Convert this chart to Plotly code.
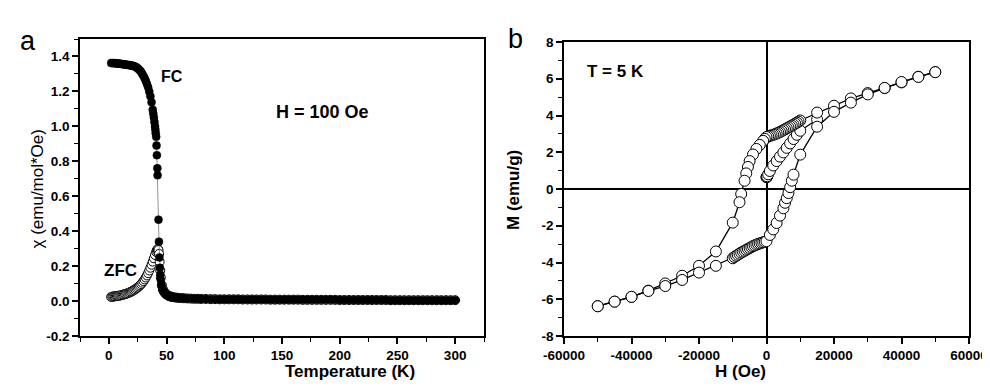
import plotly.graph_objects as go

# ---------------- Panel a : chi(T) ----------------
fc_T = [2, 3, 4, 5, 6, 7, 8, 9, 10, 11, 12, 13, 14, 15, 16, 17, 18, 19, 20, 21, 22, 23, 24, 25,
        26, 27, 28, 29, 30, 31, 32, 33, 34, 35, 36, 37, 38, 38.5, 39, 39.5, 40, 40.3, 40.6, 41,
        41.3, 41.6, 42, 42.2, 43, 43.4, 43.8, 44.2, 44.6, 45, 45.5, 46, 46.5, 47, 48, 49, 50,
        51, 52, 53, 54, 55, 57, 59, 61, 63, 65, 68, 71, 74, 77, 80, 84, 88, 92, 96, 100,
        104, 108, 112, 116, 120, 124, 128, 132, 136, 140, 144, 148, 152, 156, 160, 164, 168,
        172, 176, 180, 184, 188, 192, 196, 200, 204, 208, 212, 216, 220, 224, 228, 232, 236,
        240, 244, 248, 252, 256, 260, 264, 268, 272, 276, 280, 284, 288, 292, 296, 300]
fc_chi = [1.362, 1.362, 1.362, 1.361, 1.361, 1.360, 1.360, 1.359, 1.358, 1.357, 1.356, 1.355,
          1.354, 1.353, 1.352, 1.351, 1.350, 1.349, 1.348, 1.346, 1.344, 1.341, 1.337, 1.332,
          1.326, 1.319, 1.311, 1.300, 1.288, 1.275, 1.260, 1.243, 1.224, 1.200, 1.172, 1.138,
          1.095, 1.072, 1.050, 1.025, 1.000, 0.980, 0.960, 0.940, 0.890, 0.835, 0.760, 0.720,
          0.466, 0.340, 0.250, 0.190, 0.150, 0.120, 0.095, 0.078, 0.066, 0.057, 0.047, 0.041,
          0.036, 0.032, 0.029, 0.027, 0.025, 0.023, 0.021, 0.019, 0.018, 0.017, 0.016, 0.015,
          0.014, 0.013, 0.013, 0.012, 0.012, 0.011, 0.011, 0.010, 0.010,
          0.010, 0.010, 0.010, 0.009, 0.009, 0.009, 0.009, 0.009, 0.009, 0.008, 0.008, 0.008,
          0.008, 0.008, 0.008, 0.008, 0.007, 0.007, 0.007, 0.007, 0.007, 0.007, 0.007, 0.007,
          0.006, 0.006, 0.006, 0.006, 0.006, 0.006, 0.006, 0.006, 0.006, 0.006, 0.006, 0.005,
          0.005, 0.005, 0.005, 0.005, 0.005, 0.005, 0.005, 0.005, 0.005, 0.005, 0.005, 0.005,
          0.005, 0.005]

zfc_T = [2, 3, 4, 5, 6, 7, 8, 9, 10, 11, 12, 13, 14, 15, 16, 17, 18, 19, 20, 21, 22, 23, 24,
         25, 26, 27, 28, 29, 30, 31, 32, 33, 34, 35, 36, 37, 38, 39, 40, 41, 41.5, 42, 42.5, 43,
         43.5, 44, 44.5, 45, 46, 47, 48, 49, 50, 51, 52, 53, 54, 55, 57, 59, 61, 63, 65, 68, 71,
         74, 77, 80, 84, 88, 92, 96, 100,
         104, 108, 112, 116, 120, 124, 128, 132, 136, 140, 144, 148, 152, 156, 160, 164, 168,
         172, 176, 180, 184, 188, 192, 196, 200, 204, 208, 212, 216, 220, 224, 228, 232, 236,
         240, 244, 248, 252, 256, 260, 264, 268, 272, 276, 280, 284, 288, 292, 296, 300]
zfc_chi = [0.024, 0.025, 0.026, 0.027, 0.028, 0.029, 0.030, 0.031, 0.032, 0.034, 0.036, 0.038,
           0.040, 0.042, 0.044, 0.047, 0.050, 0.053, 0.056, 0.060, 0.064, 0.068, 0.073, 0.078,
           0.084, 0.090, 0.097, 0.105, 0.114, 0.124, 0.135, 0.147, 0.160, 0.175, 0.191, 0.208,
           0.226, 0.245, 0.264, 0.281, 0.289, 0.295, 0.298, 0.292, 0.270, 0.225, 0.175, 0.135,
           0.090, 0.066, 0.052, 0.043, 0.037, 0.032, 0.029, 0.027, 0.025, 0.023, 0.021, 0.019,
           0.018, 0.017, 0.016, 0.015, 0.014, 0.013, 0.013, 0.012, 0.012, 0.011, 0.011, 0.010,
           0.010,
           0.010, 0.010, 0.010, 0.009, 0.009, 0.009, 0.009, 0.009, 0.009, 0.008, 0.008, 0.008,
           0.008, 0.008, 0.008, 0.008, 0.007, 0.007, 0.007, 0.007, 0.007, 0.007, 0.007, 0.007,
           0.006, 0.006, 0.006, 0.006, 0.006, 0.006, 0.006, 0.006, 0.006, 0.006, 0.006, 0.005,
           0.005, 0.005, 0.005, 0.005, 0.005, 0.005, 0.005, 0.005, 0.005, 0.005, 0.005, 0.005,
           0.005, 0.005]

a_xticks = [0, 50, 100, 150, 200, 250, 300]
a_xticklabels = ["0", "50", "100", "150", "200", "250", "300"]
a_yticks = [-0.2, 0.0, 0.2, 0.4, 0.6, 0.8, 1.0, 1.2, 1.4]
a_yticklabels = ["-0.2", "0.0", "0.2", "0.4", "0.6", "0.8", "1.0", "1.2", "1.4"]

# ---------------- Panel b : M(H) at 5 K ----------------
virgin_H = [0, 50, 100, 200, 500, 1000, 2000, 3000, 4000, 5000, 6000, 7000, 8000, 9000, 10000, 15000]
virgin_M = [0.64, 0.65, 0.66, 0.69, 0.80, 0.98, 1.28, 1.52, 1.76, 1.99, 2.24, 2.48, 2.72, 2.95, 3.17, 3.78]

desc_H = [50000, 45000, 40000, 35000, 30000, 25000, 20000, 15000, 10000, 9500, 9000, 8500, 8000,
          7500, 7000, 6500, 6000, 5500, 5000, 4500, 4000, 3500, 3000, 2500, 2000, 1500, 1000,
          500, 0, -500, -1000, -2000, -3000, -4000, -5000, -5500, -6000, -6500, -7500, -8000,
          -10000, -15000, -20000, -25000, -30000, -35000, -40000, -45000, -50000]
desc_M = [6.36, 6.11, 5.80, 5.49, 5.22, 4.93, 4.53, 4.16, 3.73, 3.67, 3.61, 3.56, 3.50, 3.45,
          3.40, 3.35, 3.30, 3.25, 3.20, 3.15, 3.10, 3.06, 3.02, 2.98, 2.95, 2.92, 2.89, 2.86,
          2.83, 2.73, 2.62, 2.40, 2.18, 1.88, 1.52, 1.20, 0.85, 0.45, -0.27, -0.72, -1.83, -3.40,
          -4.18, -4.72, -5.14, -5.53, -5.87, -6.13, -6.38]

asc_H = [-50000, -45000, -40000, -35000, -30000, -25000, -20000, -15000, -10000, -9500, -9000,
         -8500, -8000, -7500, -7000, -6500, -6000, -5500, -5000, -4500, -4000, -3500, -3000,
         -2500, -2000, -1500, -1000, -500, 0, 1000, 2000, 3000, 4000, 5000, 5500, 6000, 6500,
         7000, 7500, 8000, 10000, 15000, 20000, 25000, 30000, 35000, 40000, 45000, 50000]
asc_M = [-6.38, -6.13, -5.87, -5.55, -5.28, -4.95, -4.55, -4.18, -3.77, -3.70, -3.64, -3.58,
         -3.52, -3.46, -3.41, -3.36, -3.31, -3.26, -3.21, -3.16, -3.11, -3.07, -3.03, -2.99,
         -2.96, -2.93, -2.90, -2.87, -2.84, -2.50, -2.20, -1.85, -1.45, -1.05, -0.75, -0.50,
         -0.22, 0.10, 0.45, 0.78, 1.87, 3.39, 4.20, 4.70, 5.15, 5.50, 5.82, 6.10, 6.36]

b_xticks = [-60000, -40000, -20000, 0, 20000, 40000, 60000]
b_xticklabels = ["-60000", "-40000", "-20000", "0", "20000", "40000", "60000"]
b_yticks = [-8, -6, -4, -2, 0, 2, 4, 6, 8]
b_yticklabels = ["-8", "-6", "-4", "-2", "0", "2", "4", "6", "8"]

FONT = "Liberation Sans, Arial, sans-serif"

# The page body has an 8px default margin: size the figure so it fits the window
OFF = 8
W, H = 990 - OFF, 391 - OFF


def px(x):
    return (x - OFF) / W


def py(y):
    return 1 - (y - OFF) / H


def bold(labels):
    return ["<b>%s</b>" % t for t in labels]


fig = go.Figure()

# ZFC (open circles)
fig.add_trace(go.Scatter(
    x=zfc_T, y=zfc_chi, mode="lines+markers", xaxis="x", yaxis="y",
    line=dict(color="#777777", width=0.8),
    marker=dict(symbol="circle", size=9, color="white", line=dict(color="black", width=1)),
))
# FC (filled circles)
fig.add_trace(go.Scatter(
    x=fc_T, y=fc_chi, mode="lines+markers", xaxis="x", yaxis="y",
    line=dict(color="#777777", width=0.8),
    marker=dict(symbol="circle", size=8, color="black", line=dict(color="black", width=0.5)),
))

loop_marker = dict(symbol="circle", size=11, color="white", line=dict(color="black", width=1))
for hx, my in [(virgin_H, virgin_M), (desc_H, desc_M), (asc_H, asc_M)]:
    fig.add_trace(go.Scatter(
        x=hx, y=my, mode="lines+markers", xaxis="x2", yaxis="y2",
        line=dict(color="black", width=1.3), marker=loop_marker,
    ))

tickfont = dict(family=FONT, size=13.5, color="black")
common = dict(showline=True, linecolor="black", linewidth=1.6, mirror=True,
              ticks="outside", ticklen=6, tickwidth=1.6, tickcolor="black",
              showgrid=False, tickfont=tickfont, tickmode="array", automargin=False)
minor_common = dict(ticks="outside", ticklen=4, tickwidth=1.3, tickcolor="black", tickmode="linear")

fig.update_layout(
    template="none",
    width=W, height=H, margin=dict(l=0, r=0, t=0, b=0),
    paper_bgcolor="white", plot_bgcolor="white", showlegend=False,
    font=dict(family=FONT, color="black"),
    xaxis=dict(domain=[px(80), px(484)], anchor="y", range=[-25, 325],
               tickvals=a_xticks, ticktext=bold(a_xticklabels), zeroline=False,
               minor=dict(tick0=-25, dtick=25, **minor_common), **common),
    yaxis=dict(domain=[py(336), py(39)], anchor="x", range=[-0.2, 1.5],
               tickvals=a_yticks, ticktext=bold(a_yticklabels), zeroline=False,
               minor=dict(tick0=-0.1, dtick=0.1, **minor_common), **common),
    xaxis2=dict(domain=[px(564), px(969)], anchor="y2", range=[-60000, 60000],
                tickvals=b_xticks, ticktext=bold(b_xticklabels),
                zeroline=True, zerolinecolor="black", zerolinewidth=1.5,
                minor=dict(tick0=-50000, dtick=10000, **minor_common), **common),
    yaxis2=dict(domain=[py(336), py(42)], anchor="x2", range=[-8, 8],
                tickvals=b_yticks, ticktext=bold(b_yticklabels),
                zeroline=True, zerolinecolor="black", zerolinewidth=1.5,
                minor=dict(tick0=-7, dtick=1, **minor_common), **common),
)

titlefont = dict(family=FONT, size=17, color="black", weight="bold")
# axis titles
fig.add_annotation(x=px(283), y=py(383), xref="paper", yref="paper", text="Temperature (K)",
                   showarrow=False, font=titlefont)
fig.add_annotation(x=px(768), y=py(383), xref="paper", yref="paper", text="H (Oe)",
                   showarrow=False, font=titlefont)
fig.add_annotation(x=px(25), y=py(189), xref="paper", yref="paper", text="χ (emu/mol*Oe)",
                   textangle=-90, showarrow=False, font=dict(family=FONT, size=17, color="black"))
fig.add_annotation(x=px(514), y=py(190), xref="paper", yref="paper", text="M (emu/g)",
                   textangle=-90, showarrow=False, font=titlefont)

# in-plot labels
ann_font = dict(family=FONT, size=17, color="black", weight="bold")
fig.add_annotation(x=55, y=1.285, xref="x", yref="y", text="FC", showarrow=False,
                   font=dict(family=FONT, size=16, color="black", weight="bold"))
fig.add_annotation(x=185.5, y=1.083, xref="x", yref="y", text="H = 100 Oe", showarrow=False,
                   font=dict(family=FONT, size=18, color="black", weight="bold"))
fig.add_annotation(x=10.4, y=0.174, xref="x", yref="y", text="ZFC", showarrow=False, font=ann_font)
fig.add_annotation(x=-44600, y=6.42, xref="x2", yref="y2", text="T = 5 K", showarrow=False, font=ann_font)

# panel letters
fig.add_annotation(x=px(18), y=py(24), xref="paper", yref="paper", text="a", showarrow=False,
                   font=dict(family=FONT, size=27, color="black"))
fig.add_annotation(x=px(515), y=py(22), xref="paper", yref="paper", text="b", showarrow=False,
                   font=dict(family=FONT, size=27, color="black"))

fig.write_html("out.html")
